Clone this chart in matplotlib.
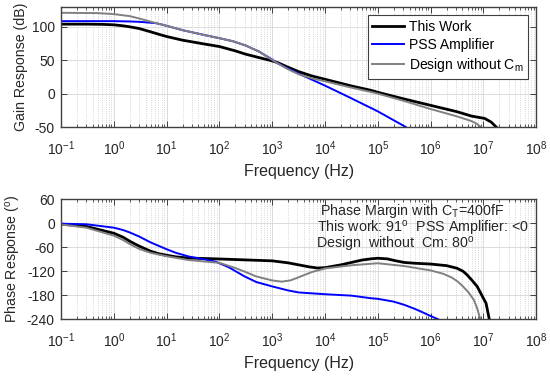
# Bode plot: gain and phase response for three amplifier designs.
import numpy as np
import matplotlib.pyplot as plt

# ---------------------------------------------------------------------------------------------- #
# Data.
# ---------------------------------------------------------------------------------------------- #
SeriesNames = ['This Work', 'PSS Amplifier', r'Design without C$_\mathregular{m}$']

# Gain response (dB)
GainFreqWork = [0.1, 0.3, 0.6, 1, 1.5, 2, 3, 5, 7, 10, 20, 50, 100, 200, 316, 560, 1000, 1260,
                2000, 3160, 5600, 1e4, 3.16e4, 7.4e4, 1e5, 3.16e5, 1e6, 3.16e6, 5.9e6, 1.05e7,
                1.4e7, 1.75e7]
GainWork = [104, 104, 103.7, 103, 101.5, 100, 97.5, 92.5, 89, 85.5, 80, 74.5, 70.5, 64, 59, 54,
            49, 46.5, 39.5, 33, 26.5, 21.5, 11.5, 5, 2, -8, -17.5, -27, -33.5, -37, -42.5, -50]

GainFreqPSS = [0.1, 1, 2, 3, 6.3, 10, 20, 50, 100, 178, 316, 562, 1000, 1260, 1780, 3160, 1e4,
               3.16e4, 1e5, 3.4e5]
GainPSS = [108.5, 108.5, 108, 107.5, 105.5, 101.5, 95, 88, 83, 78.5, 72, 63, 51, 45.5, 39.5, 30,
           12, -7, -26.5, -50]

GainFreqNoCm = [0.1, 0.5, 1, 2, 3, 6.3, 10, 20, 50, 100, 178, 316, 562, 1000, 1260, 2000, 3160,
                5600, 1e4, 3.16e4, 7.4e4, 1e5, 3.16e5, 1e6, 3.16e6, 5.9e6, 7.5e6, 8.9e6]
GainNoCm = [121, 120.5, 119, 116, 112.5, 105.5, 101.5, 95, 88, 83, 78.5, 72, 63, 50.5, 45.5,
            36.5, 29, 23, 18.5, 9, 2.5, 0, -11, -23, -34, -41, -45, -50]

# Phase response (degrees)
PhaseFreqWork = [0.1, 0.3, 1, 1.5, 2, 3, 5, 7, 10, 15, 26, 85, 1000, 2000, 3160, 5000, 7200,
                 1e4, 2e4, 3.16e4, 5e4, 7.4e4, 1e5, 1.5e5, 2.2e5, 3.16e5, 5e5, 1e6, 2e6, 3.16e6,
                 4.1e6, 4.9e6, 6e6, 7.6e6, 9.3e6, 1.12e7, 1.29e7]
PhaseWork = [-2, -8, -25, -35, -45, -57, -70, -76, -80, -84, -87, -89, -94, -99, -104, -109,
             -112, -111, -104, -98, -92, -89, -87.5, -89, -94, -98, -100, -102, -106, -112.5,
             -120, -129, -142, -158, -180, -200, -240]

PhaseFreqPSS = [0.1, 0.3, 1, 1.5, 2, 3, 5, 10, 15, 26, 50, 85, 150, 300, 500, 1000, 2000, 3160,
                1e4, 3.16e4, 7.4e4, 1e5, 2e5, 3.16e5, 5e5, 6.6e5, 1e6, 1.38e6]
PhasePSS = [-1, -2.5, -11, -17, -23, -33, -48, -65, -74, -83, -90, -96, -110, -133, -147, -158,
            -168, -173, -177.5, -181, -187.5, -189, -196, -204, -214, -221, -232, -240]

PhaseFreqNoCm = [0.1, 0.3, 1, 1.5, 2, 3, 5, 10, 26, 100, 200, 300, 500, 1000, 1500, 2200, 3160,
                 5600, 1e4, 3.16e4, 1e5, 3.16e5, 1e6, 1.7e6, 2.45e6, 3.2e6, 4.1e6, 5.3e6, 6.6e6,
                 7.7e6, 8.7e6]
PhaseNoCm = [-3, -11, -31, -42, -52, -64, -74, -82.5, -92, -99, -112, -121, -133, -143, -146,
             -143, -135, -122, -113, -105, -100, -107, -118, -126, -135, -145, -158, -174, -192,
             -215, -240]

FreqDecades = list(range(-1, 9))
FreqTickLabels = [r'$\mathregular{10^{%d}}$' % k for k in FreqDecades]
GainTicks = [-50, 0, 50, 100]
PhaseTicks = [-240, -180, -120, -60, 0, 60]

# ---------------------------------------------------------------------------------------------- #
# Plot properties.
# ---------------------------------------------------------------------------------------------- #
FontType = 'Liberation Sans'
plt.rcParams['font.family'] = FontType
plt.rcParams['mathtext.fontset'] = 'custom'
plt.rcParams['mathtext.rm'] = FontType
plt.rcParams['mathtext.it'] = FontType + ':italic'
plt.rcParams['mathtext.bf'] = FontType + ':bold'
plt.rcParams['axes.unicode_minus'] = False

TickSize = 10
LabelSize = 11.5
YLabelSize = 10.2
LineColors = ['#000000', '#0000ff', '#808080']
LineWidths = [2.0, 1.4, 1.4]
AxisColor = '#404040'
TextColor = '#262626'

fig = plt.figure(figsize=(5.5, 3.76), dpi=100)
axGain = fig.add_axes([0.111, 0.662, 0.864, 0.320])
axPhase = fig.add_axes([0.111, 0.151, 0.864, 0.319])


def StyleAxes(ax, yTicks, yLim, yLabel):
    ax.set_xscale('log')
    ax.set_xlim(1e-1, 1e8)
    ax.set_ylim(yLim)
    ax.set_yticks(yTicks)
    MajorTicks = [10.0 ** k for k in FreqDecades]
    MinorTicks = [m * 10.0 ** k for k in FreqDecades[:-1] for m in range(2, 10)]
    ax.set_xticks(MajorTicks, FreqTickLabels)
    ax.set_xticks(MinorTicks, minor=True)
    ax.set_xticklabels([], minor=True)
    ax.grid(True, which='major', color='#d6d6d6', linestyle='-', linewidth=0.6)
    ax.grid(True, which='minor', axis='x', color='#c8c8c8', linestyle=':', linewidth=0.6)
    ax.set_axisbelow(True)
    ax.tick_params(which='both', direction='in', top=True, right=True, colors=AxisColor,
                   labelcolor=TextColor, labelsize=TickSize)
    ax.tick_params(which='major', length=4, width=0.7)
    ax.tick_params(which='minor', length=2, width=0.6)
    ax.tick_params(axis='x', which='major', pad=9)
    ax.tick_params(axis='y', which='major', pad=4.5)
    for s in ax.spines.values():
        s.set_color(AxisColor)
        s.set_linewidth(1.0)
    ax.set_xlim(1e-1, 1e8)
    ax.set_xlabel('Frequency (Hz)', fontsize=LabelSize, color=TextColor, labelpad=4)
    ax.set_ylabel(yLabel, fontsize=YLabelSize, color=TextColor, labelpad=3)


# Gain plot
GainData = [(GainFreqWork, GainWork), (GainFreqPSS, GainPSS), (GainFreqNoCm, GainNoCm)]
for i, (f, g) in enumerate(GainData):
    axGain.plot(f, g, color=LineColors[i], linewidth=LineWidths[i], label=SeriesNames[i])
StyleAxes(axGain, GainTicks, (-50, 130), 'Gain Response (dB)')
leg = axGain.legend(loc='upper right', fontsize=10, frameon=True, fancybox=False,
                    framealpha=1, edgecolor=AxisColor, handlelength=2.3, handletextpad=0.3,
                    labelspacing=0.3, borderaxespad=0.6, borderpad=0.35)
leg.get_frame().set_linewidth(0.8)

# Phase plot
PhaseData = [(PhaseFreqWork, PhaseWork), (PhaseFreqPSS, PhasePSS), (PhaseFreqNoCm, PhaseNoCm)]
for i, (f, p) in enumerate(PhaseData):
    axPhase.plot(f, p, color=LineColors[i], linewidth=LineWidths[i])
StyleAxes(axPhase, PhaseTicks, (-240, 60), r'Phase Response ($\mathregular{^o}$)')

# Phase margin annotation
TextSize = 10.3
axPhase.text(0.545, 0.905, r'Phase Margin with C$_\mathregular{T}$=400fF',
             transform=axPhase.transAxes, fontsize=TextSize, va='center', ha='left',
             color=TextColor)
axPhase.text(0.538, 0.76, r'This work: 91$\mathregular{^o}$  PSS Amplifier: <0',
             transform=axPhase.transAxes, fontsize=TextSize, va='center', ha='left',
             color=TextColor)
axPhase.text(0.537, 0.619, r'Design  without  Cm: 80$\mathregular{^o}$',
             transform=axPhase.transAxes, fontsize=TextSize, va='center', ha='left',
             color=TextColor)

fig.savefig('out.png', dpi=100)
